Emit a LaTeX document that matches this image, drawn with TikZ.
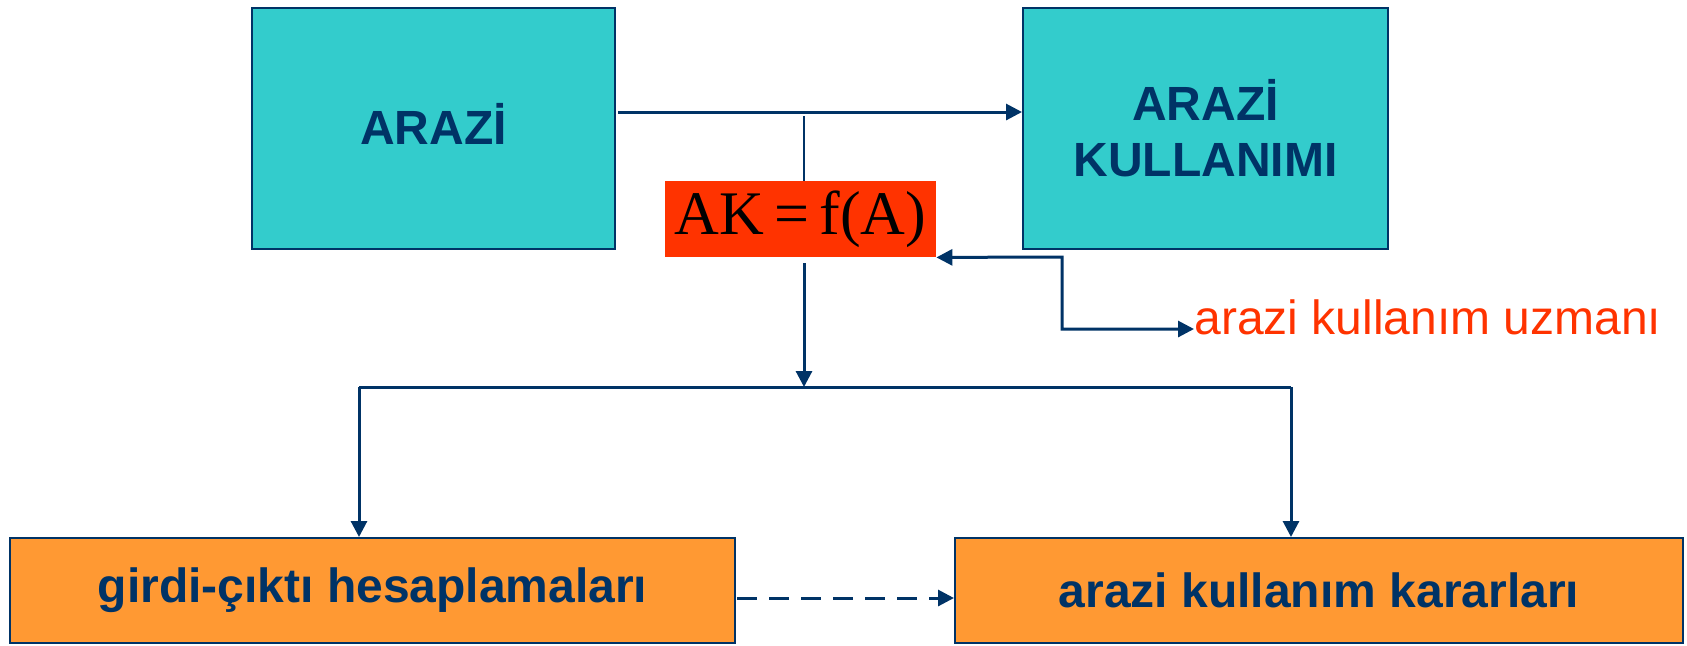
\documentclass[tikz,border=0pt]{standalone}
\usepackage{fontspec}
\setmainfont{Liberation Sans}
\newfontfamily\serifface{Liberation Serif}
\usetikzlibrary{arrows.meta}
\definecolor{teal1}{HTML}{33CCCC}
\definecolor{navy1}{HTML}{003366}
\definecolor{red1}{HTML}{FF3300}
\definecolor{orange1}{HTML}{FF9933}
\tikzset{
  tealbox/.style={draw=navy1, line width=1pt, fill=teal1, inner sep=0pt, text=navy1, align=center,
    font=\fontsize{24}{28}\selectfont\bfseries},
  orangebox/.style={draw=navy1, line width=1pt, fill=orange1, inner sep=0pt, text=navy1, align=center,
    font=\fontsize{24}{28}\selectfont\bfseries},
  redbox/.style={fill=red1, inner sep=0pt, text=black, font=\serifface\fontsize{31}{34}\selectfont},
  conn/.style={draw=navy1, line width=1.5pt},
  arr/.style={conn, -{Triangle[length=8pt,width=8pt]}},
  darr/.style={conn, {Triangle[length=8pt,width=8pt]}-{Triangle[length=8pt,width=8pt]}},
}
\begin{document}
\begin{tikzpicture}[x=0.5pt,y=-0.5pt]
\useasboundingbox (0,0) rectangle (1687,645);
\node[tealbox, minimum width=181.5pt, minimum height=120.5pt] (arazi) at (433.5,128) {\raisebox{4pt}{ARAZİ}};
\node[tealbox, minimum width=182.5pt, minimum height=120.5pt] (kul) at (1205.5,128) {ARAZİ\\KULLANIMI};
\node[redbox, minimum width=135.5pt, minimum height=38pt] (ak) at (800.5,219) {AK\,=\,f(A)};
\node[orangebox, minimum width=362.5pt, minimum height=52.5pt] (gi) at (372.5,590.5) {\raisebox{-2.5pt}{girdi-çıktı hesaplamaları}};
\node[orangebox, minimum width=364pt, minimum height=52.5pt] (ka) at (1319,590.5) {\raisebox{-1.5pt}{arazi kullanım kararları}};
\node[anchor=mid west, inner sep=0pt, text=red1, font=\fontsize{24}{28}\selectfont] (uzm) at (1194,329) {arazi kullanım uzmanı};
% top arrow
\coordinate (t1) at (618,112);
\draw[arr] (t1) -- (t1 -| kul.west);
% thin link
\coordinate (j) at (804,116);
\draw[draw=navy1, line width=1pt] (j) -- (j |- ak.north);
% down arrow
\coordinate (hb) at (804,387);
\draw[arr] (804,263) -- (hb);
\coordinate (hl) at (359,387);
\coordinate (hr) at (1291,387);
\draw[conn] (hl) -- (hr);
\draw[arr] (hl) -- (hl |- gi.north);
\draw[arr] (hr) -- (hr |- ka.north);
% feedback
\coordinate (c1) at (1062,257);
\coordinate (c2) at (1062,329);
\draw[darr] (ak.south east) -- (c1) -- (c2) -- (uzm.mid west);
% dashed
\coordinate (d1) at (737,598);
\draw[arr, dashed, dash pattern=on 10pt off 6pt] (d1) -- (d1 -| ka.west);
\end{tikzpicture}
\end{document}
